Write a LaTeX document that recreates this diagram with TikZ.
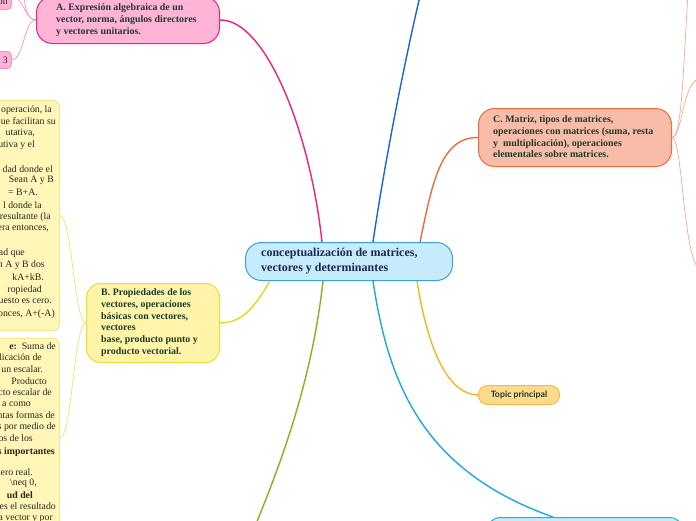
\documentclass[tikz,border=0pt]{standalone}
\usepackage{fontspec}
\setmainfont{Liberation Serif}
\newfontfamily\topicfont{Lato}
\usetikzlibrary{calc}
\definecolor{cfill}{HTML}{C6EBFB}
\definecolor{cborder}{HTML}{3DA0DC}
\definecolor{ctext}{HTML}{1B2A52}
\definecolor{ntext}{HTML}{183D2E}
\definecolor{pinkfill}{HTML}{FFB3D6}
\definecolor{pinkline}{HTML}{F0207D}
\definecolor{pinkthin}{HTML}{FF8DC4}
\definecolor{salfill}{HTML}{F9BCA8}
\definecolor{salline}{HTML}{F06A3A}
\definecolor{salthin}{HTML}{F9A98A}
\definecolor{yelfill}{HTML}{FFF4A8}
\definecolor{yelborder}{HTML}{F0DA3C}
\definecolor{yelline}{HTML}{EED31C}
\definecolor{yelthin}{HTML}{F2DF70}
\definecolor{notefill}{HTML}{FFF6B8}
\definecolor{noteborder}{HTML}{F6E58A}
\definecolor{topfill}{HTML}{FFDA8C}
\definecolor{topborder}{HTML}{F8BC3C}
\definecolor{topline}{HTML}{F8B420}
\definecolor{greenline}{HTML}{80B51E}
\definecolor{dblue}{HTML}{1565D8}
\definecolor{lblue}{HTML}{1AA8E6}
\definecolor{lblueborder}{HTML}{2BAAE8}
\tikzset{
  mainbox/.style={draw, line width=1pt, inner sep=0pt, anchor=north west},
  nodetext/.style={font=\fontsize{9.9}{11.7}\selectfont\bfseries, text=ntext, align=left, inner sep=0pt},
  lefttext/.style={font=\fontsize{9.8}{11.7}\selectfont, text=black!85, inner sep=0pt, anchor=east},
  branch/.style={line width=1.4pt},
  twig/.style={line width=0.7pt}
}
\begin{document}
\begin{tikzpicture}[x=1pt,y=-1pt]
\useasboundingbox (0,0) rectangle (696,520);
\begin{scope}
\clip (0,0) rectangle (696,520);

% ---- boxes
\node[mainbox, fill=cfill, draw=cborder, rounded corners=16pt, minimum width=207pt, minimum height=38pt] (c) at (245,242) {};
\node[font=\fontsize{12}{14.5}\selectfont\bfseries, text=ctext, align=left, inner sep=0pt, anchor=west] (ct) at (261,261) {conceptualización de matrices,\\vectores y determinantes};

\node[mainbox, fill=pinkfill, draw=pinkline, rounded corners=16pt, minimum width=183pt, minimum height=47pt] (A) at (36,-4) {};
\node[nodetext, anchor=west] (At) at (56,20) {A. Expresión algebraica de un\\vector, norma, ángulos directores\\y vectores unitarios.};

\node[mainbox, fill=salfill, draw=salline, rounded corners=16pt, minimum width=193pt, minimum height=58pt] (C) at (478,108) {};
\node[nodetext, anchor=west] (Ct) at (493,137) {C. Matriz, tipos de matrices,\\operaciones con matrices (suma, resta\\y\ \ multiplicación), operaciones\\elementales sobre matrices.};

\node[mainbox, fill=yelfill, draw=yelborder, rounded corners=14pt, minimum width=133pt, minimum height=79pt] (B) at (86,283) {};
\node[nodetext, anchor=west] (Bt) at (101,322.5) {B. Propiedades de los\\vectores, operaciones\\básicas con vectores,\\vectores\\base, producto punto y\\producto vectorial.};

\node[mainbox, fill=topfill, draw=topborder, rounded corners=9pt, minimum width=81pt, minimum height=19pt] (T) at (478,385) {};
\node[font=\topicfont\fontsize{8.8}{10}\selectfont\bfseries, text=ntext, inner sep=0pt] (Tt) at (T.center) {Topic principal};

\node[mainbox, fill=cfill, draw=lblueborder, rounded corners=14pt, minimum width=197pt, minimum height=40pt] (D) at (486,517) {};

% A children
\node[mainbox, fill=pinkfill, draw=pinkthin, line width=0.8pt, rounded corners=4pt, minimum width=31pt, minimum height=24pt] (a1) at (-20,-15) {};
\node[font=\fontsize{9.8}{11}\selectfont, text=black!85, inner sep=0pt, anchor=east] (a1t) at (8,2) {on};
\node[mainbox, fill=pinkfill, draw=pinkthin, line width=0.8pt, rounded corners=4pt, minimum width=31pt, minimum height=17pt] (a2) at (-20,51) {};
\node[font=\fontsize{9.8}{11}\selectfont, text=black!85, inner sep=0pt, anchor=east] (a2t) at (8,60) {3};
\coordinate (aup) at (24,-12);

% B children (note boxes)
\node[mainbox, fill=notefill, draw=noteborder, line width=0.8pt, rounded corners=6pt, minimum width=79pt, minimum height=230pt] (n1) at (-20,100) {};
\node[mainbox, fill=notefill, draw=noteborder, line width=0.8pt, rounded corners=6pt, minimum width=79pt, minimum height=200pt] (n2) at (-20,338) {};

\foreach \yy/\xx/\txt in {110/52/{operación, la},122/56/{que facilitan su},133/35/{utativa,},145/35/{utiva y el},
  169/53/{dad donde el},180/54/{Sean A y B},192/38/{= B+A.},205/42/{l donde la},217/51/{resultante (la},228/49/{iera entonces,},
  253/25/{ad que},265/45/{an A y B dos},277/44/{kA+kB.},290/42/{ropiedad},302/52/{puesto es cero.},314/55/{tonces, A+(-A)}}
  \node[lefttext] (p\yy) at (\xx,\yy) {\txt};

\foreach \yy/\xx/\txt in {346/56/{\textbf{e:}\ \ Suma de},358/42/{plicación de},369/43/{un escalar.},381/47/{Producto},
  392/52/{cto escalar de},404/31/{a como},415/55/{ntas formas de},427/56/{es por medio de},438/33/{los de los},
  452/55/{\textbf{es importantes}},472/33/{nero real.},483/37/{\textbackslash neq 0,},495/33/{\textbf{ud del}},
  506/56/{es el resultado},518/53/{la vector y por}}
  \node[lefttext] (q\yy) at (\xx,\yy) {\txt};

% C children free ends
\coordinate (cu) at (688,-6);
\coordinate (cr) at (702,78);
\coordinate (cd) at (702,270);

% bottom free ends
\coordinate (gend) at (256,524);
\coordinate (topblue) at (420,-4);

% ---- connectors
\draw[branch, pinkline] (A.east) .. controls (265,19) and (310,130) .. ([xshift=77pt]c.north west);
\draw[branch, dblue] ([xshift=128pt]c.north west) .. controls (385,160) and (405,60) .. (topblue);
\draw[branch, salline] ([xshift=175pt]c.north west) .. controls (432,185) and (440,137) .. (C.west);
\draw[branch, yelline] ([xshift=25pt]c.south west) .. controls (252,312) and (240,322.5) .. (B.east);
\draw[branch, greenline] ([xshift=78pt]c.south west) .. controls (312,380) and (282,460) .. (gend);
\draw[branch, lblue] ([xshift=128pt]c.south west) .. controls (388,380) and (420,470) .. ([xshift=-32pt]D.north);
\draw[branch, topline] ([xshift=172pt]c.south west) .. controls (428,350) and (448,394.5) .. (T.west);

\draw[twig, pinkthin] (A.west) .. controls (24,19.5) and (24,-3.5) .. (a1.east);
\draw[twig, pinkthin] (A.west) .. controls (26,19.5) and (24,5) .. (aup);
\draw[twig, pinkthin] (A.west) .. controls (24,19.5) and (24,59.5) .. (a2.east);

\draw[twig, yelthin] (B.west) .. controls (74,322.5) and (72,215) .. (n1.east);
\draw[twig, yelthin] (B.west) .. controls (74,322.5) and (72,438) .. (n2.east);

\draw[twig, salthin] (C.east) .. controls (682,137) and (683,70) .. (cu);
\draw[twig, salthin] (C.east) .. controls (683,137) and (682,78) .. (cr);
\draw[twig, salthin] (C.east) .. controls (683,137) and (683,270) .. (cd);
\end{scope}
\end{tikzpicture}
\end{document}
